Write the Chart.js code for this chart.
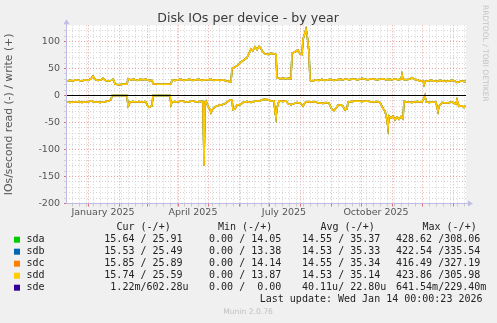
<!DOCTYPE html>
<html>
<head>
<meta charset="utf-8">
<script src="https://cdn.jsdelivr.net/npm/chart.js@4.4.1/dist/chart.umd.min.js"></script>
<style>
  html, body { margin: 0; padding: 0; background: #f0f0f0; overflow: hidden; }
  canvas { display: block; }
</style>
</head>
<body>
<canvas id="grafico" width="497" height="323"></canvas>
<script>
// x = days since 10 Dec 2024 (graph covers 400 days up to 14 Jan 2026)
const writeDays = [1, 4, 7, 10, 13, 16, 19, 22, 25, 27, 29, 32, 35, 37, 39, 42, 45, 47, 48, 49, 53, 57, 61, 62, 65, 68, 71, 74, 77, 80, 83, 86, 87, 91, 96, 101, 105, 106, 109, 112, 115, 118, 121, 124, 127, 130, 133, 136, 139, 142, 145, 148, 151, 154, 157, 160, 163, 165, 166, 169, 172, 175, 178, 181, 183, 185, 187, 189, 191, 193, 195, 197, 199, 202, 205, 208, 210, 211, 214, 217, 220, 223, 225, 226, 228, 230, 232, 234, 236, 237, 240, 241, 243, 244, 247, 250, 253, 256, 259, 262, 265, 268, 271, 274, 277, 280, 283, 286, 289, 292, 295, 296, 299, 302, 305, 308, 311, 314, 317, 320, 323, 326, 329, 332, 335, 336, 337, 340, 343, 346, 348, 351, 354, 357, 358, 359, 362, 365, 368, 371, 374, 377, 380, 383, 386, 389, 391, 393, 395, 398, 400]
const writeIOs = [27, 28, 27, 29, 28, 27, 29, 28, 31, 36, 30, 28, 29, 32, 28, 27, 28, 30, 27, 21, 20, 21, 21, 31, 29, 30, 28, 30, 29, 30, 28, 28, 22, 21, 21, 21, 21, 29, 28, 29, 30, 28, 29, 30, 28, 29, 30, 28, 29, 29, 30, 28, 29, 28, 29, 27, 26, 25, 50, 53, 56, 62, 66, 70, 78, 86, 83, 90, 85, 91, 87, 80, 77, 76, 78, 77, 76, 33, 31, 32, 31, 32, 31, 78, 80, 82, 84, 77, 76, 104, 123, 114, 80, 28, 27, 29, 28, 30, 28, 29, 30, 28, 29, 30, 29, 31, 29, 30, 30, 29, 31, 32, 30, 29, 31, 30, 29, 30, 31, 29, 30, 29, 31, 29, 30, 39, 30, 29, 30, 33, 30, 29, 27, 27, 20, 26, 27, 28, 27, 26, 28, 27, 26, 27, 28, 27, 24, 25, 27, 26, 26]

const readDays = [1, 4, 7, 10, 13, 16, 19, 22, 25, 28, 31, 34, 37, 40, 43, 45, 46, 61, 62, 63, 64, 67, 70, 73, 76, 79, 80, 81, 83, 86, 87, 104, 105, 106, 109, 112, 115, 118, 121, 124, 127, 130, 133, 136, 137, 138, 139, 140, 142, 144, 145, 147, 150, 153, 156, 159, 162, 164, 166, 167, 169, 171, 174, 177, 181, 185, 188, 191, 194, 196, 199, 202, 205, 208, 209, 210, 211, 213, 217, 220, 222, 225, 228, 231, 234, 237, 239, 242, 245, 248, 251, 254, 257, 260, 263, 266, 268, 269, 272, 275, 277, 279, 281, 282, 286, 291, 296, 301, 306, 311, 314, 317, 319, 321, 322, 323, 325, 327, 329, 331, 333, 335, 337, 338, 341, 346, 351, 356, 358, 359, 360, 363, 367, 370, 372, 373, 376, 381, 386, 390, 391, 393, 396, 398, 400]
const readIOs = [-12, -13, -12, -12, -11, -13, -12, -12, -10, -12, -12, -13, -12, -11, -10, -8, 0, 0, -20, -17, -12, -11, -12, -11, -12, -11, -12, -18, -22, -19, 0, 0, -17, -12, -11, -12, -10, -11, -12, -11, -10, -12, -11, -11, -11, -130, -12, -10, -20, -26, -32, -24, -20, -18, -17, -15, -11, -8, -9, -26, -25, -17, -17, -13, -11, -13, -11, -10, -10, -8, -7, -8, -10, -10, -30, -41, -23, -10, -11, -10, -15, -17, -15, -13, -14, -20, -13, -11, -12, -11, -13, -14, -15, -13, -14, -26, -28, -26, -18, -17, -20, -27, -25, -12, -11, -10, -11, -10, -12, -11, -13, -24, -29, -45, -60, -38, -42, -38, -45, -40, -44, -39, -43, -11, -12, -13, -11, -12, -5, 0, -12, -13, -12, -13, -29, -20, -13, -14, -12, -16, -8, -20, -19, -22, -18]

const sdeDays = [0, 400]
const sdeIOs = [0, 0]

const devices = ['sda', 'sdb', 'sdc', 'sdd', 'sde']
const deviceColors = ['#00cc00', '#0066b3', '#ff8000', '#ffcc00', '#330099']

const monthStartDays = [22, 53, 81, 112, 142, 173, 203, 234, 265, 295, 326, 356, 387]
const labelDays = [37, 127, 218, 310]
const xLabels = ['January 2025', 'April 2025', 'July 2025', 'October 2025']

const legendCur = [' 15.64 / 25.91', ' 15.53 / 25.49', ' 15.85 / 25.89', ' 15.74 / 25.59', '  1.22m/602.28u']
const legendMin = ['  0.00 / 14.05', '  0.00 / 13.38', '  0.00 / 14.14', '  0.00 / 13.87', '  0.00 /  0.00']
const legendAvg = [' 14.55 / 35.37', ' 14.53 / 35.33', ' 14.55 / 35.34', ' 14.53 / 35.14', ' 40.11u/ 22.80u']
const legendMax = ['428.62 /308.06', '422.54 /335.54', '416.49 /327.19', '423.86 /305.98', '641.54m/229.40m']

// weekly minor grid (mondays), monthly major grid, label slots mid-month
const xKind = new Map()
for (let d = 6; d < 400; d += 7) xKind.set(d, 'week')
monthStartDays.forEach(d => xKind.set(d, 'month'))
labelDays.forEach(d => xKind.set(d, 'label'))
const xTickValues = [...xKind.keys()].sort((a, b) => a - b)

const yTickValues = []
for (let v = -200; v <= 120; v += 10) yTickValues.push(v)

const redGrid = '#e8a2a2'
const grayGrid = '#d4d4d4'
const tickFont = { family: 'DejaVu Sans', size: 9.5 }

function points(xs, ys) {
  return xs.map((x, i) => ({ x: x, y: ys[i] }))
}

const datasets = []
devices.forEach((name, i) => {
  const isSde = name == 'sde'
  const order = 4 - i
  datasets.push({
    label: name + ' write',
    data: isSde ? points(sdeDays, sdeIOs) : points(writeDays, writeIOs),
    borderColor: deviceColors[i],
    borderWidth: isSde ? 1 : 1.5,
    pointRadius: 0,
    tension: 0,
    order: order
  })
  datasets.push({
    label: name + ' read',
    data: isSde ? points(sdeDays, sdeIOs) : points(readDays, readIOs),
    borderColor: deviceColors[i],
    borderWidth: isSde ? 1 : 1.5,
    pointRadius: 0,
    tension: 0,
    order: order
  })
})

const muninDecor = {
  id: 'muninDecor',
  beforeDraw(chart) {
    const ctx = chart.ctx
    const a = chart.chartArea
    ctx.save()
    ctx.fillStyle = '#f0f0f0'
    ctx.fillRect(0, 0, chart.width, chart.height)
    ctx.fillStyle = '#ffffff'
    ctx.fillRect(a.left, a.top, a.right - a.left, a.bottom - a.top)
    ctx.restore()
  },
  afterDatasetsDraw(chart) {
    const ctx = chart.ctx
    const a = chart.chartArea
    const y0 = Math.floor(chart.scales.y.getPixelForValue(0)) + 0.5
    ctx.save()
    ctx.strokeStyle = '#000000'
    ctx.lineWidth = 1.2
    ctx.beginPath()
    ctx.moveTo(a.left, y0)
    ctx.lineTo(a.right, y0)
    ctx.stroke()
    ctx.restore()
  },
  afterDraw(chart) {
    const ctx = chart.ctx
    const a = chart.chartArea
    ctx.save()
    // axes with arrows
    const ax = Math.floor(a.left) + 0.5
    const ay = Math.floor(a.bottom) + 0.5
    ctx.strokeStyle = '#bcbce6'
    ctx.fillStyle = '#bcbce6'
    ctx.lineWidth = 1
    ctx.beginPath()
    ctx.moveTo(ax, ay)
    ctx.lineTo(a.right + 3, ay)
    ctx.moveTo(ax, ay)
    ctx.lineTo(ax, a.top - 2)
    ctx.stroke()
    ctx.beginPath()
    ctx.moveTo(a.right + 2, ay - 3)
    ctx.lineTo(a.right + 7, ay)
    ctx.lineTo(a.right + 2, ay + 3)
    ctx.closePath()
    ctx.fill()
    ctx.beginPath()
    ctx.moveTo(ax - 3, a.top - 1)
    ctx.lineTo(ax, a.top - 6)
    ctx.lineTo(ax + 3, a.top - 1)
    ctx.closePath()
    ctx.fill()

    // title
    ctx.fillStyle = '#3a3a3a'
    ctx.font = '12.6px "DejaVu Sans"'
    ctx.textAlign = 'center'
    ctx.textBaseline = 'middle'
    ctx.fillText('Disk IOs per device - by year', 248, 19)

    // watermark
    ctx.save()
    ctx.translate(485, 5)
    ctx.rotate(Math.PI / 2)
    ctx.fillStyle = '#c4c4c4'
    ctx.font = '7.5px "DejaVu Sans"'
    ctx.textAlign = 'left'
    ctx.fillText('RRDTOOL / TOBI OETIKER', 0, 0)
    ctx.restore()

    // legend table
    ctx.font = '10px "DejaVu Sans Mono"'
    ctx.fillStyle = '#222222'
    ctx.textAlign = 'left'
    ctx.textBaseline = 'middle'
    const headY = 227.5
    ctx.fillText('Cur (-/+)', 116.5, headY)
    ctx.fillText('Min (-/+)', 218, headY)
    ctx.fillText('Avg (-/+)', 320.5, headY)
    ctx.fillText('Max (-/+)', 422.5, headY)
    devices.forEach((name, i) => {
      const y = 239.7 + i * 12
      ctx.fillStyle = deviceColors[i]
      ctx.fillRect(14, y - 3, 6, 6)
      ctx.fillStyle = '#222222'
      ctx.fillText(name, 26.5, y)
      ctx.fillText(legendCur[i], 98.3, y)
      ctx.fillText(legendMin[i], 197, y)
      ctx.fillText(legendAvg[i], 296, y)
      ctx.fillText(legendMax[i], 396, y)
    })
    ctx.textAlign = 'right'
    ctx.fillText('Last update: Wed Jan 14 00:00:23 2026', 482.5, 299.5)

    ctx.textAlign = 'center'
    ctx.fillStyle = '#c0c0c0'
    ctx.font = '7.6px "DejaVu Sans"'
    ctx.fillText('Munin 2.0.76', 248, 312.5)
    ctx.restore()
  }
}

const canvas = document.getElementById('grafico')
const chart = new Chart(canvas.getContext('2d'), {
  type: 'line',
  data: { datasets: datasets },
  plugins: [muninDecor],
  options: {
    responsive: false,
    devicePixelRatio: 1,
    animation: false,
    layout: { padding: { top: 25.3, right: 31, bottom: 99.5, left: 0 } },
    plugins: { legend: { display: false }, tooltip: { enabled: false }, title: { display: false } },
    scales: {
      x: {
        type: 'linear',
        min: 0,
        max: 400,
        afterBuildTicks: s => { s.ticks = xTickValues.map(v => ({ value: v })) },
        afterFit: s => { s.height = 20 },
        grid: {
          drawTicks: true,
          tickLength: 3,
          lineWidth: c => (c.tick && xKind.get(c.tick.value) == 'label') ? 0 : 1,
          color: c => {
            const k = c.tick ? xKind.get(c.tick.value) : ''
            return k == 'month' ? redGrid : (k == 'week' ? grayGrid : 'rgba(0,0,0,0)')
          },
          tickColor: c => {
            const k = c.tick ? xKind.get(c.tick.value) : ''
            return k == 'month' ? '#e07070' : (k == 'week' ? '#c8c8c8' : 'rgba(0,0,0,0)')
          }
        },
        border: { display: false, dash: [1, 2] },
        ticks: {
          autoSkip: false,
          maxRotation: 0,
          minRotation: 0,
          padding: 0,
          color: '#555555',
          font: tickFont,
          callback: v => {
            const i = labelDays.indexOf(v)
            return i >= 0 ? xLabels[i] : ''
          }
        }
      },
      y: {
        type: 'linear',
        min: -200,
        max: 130,
        afterBuildTicks: s => { s.ticks = yTickValues.map(v => ({ value: v })) },
        afterFit: s => { s.width = 66 },
        grid: {
          drawTicks: true,
          tickLength: 2,
          lineWidth: 1,
          color: c => (c.tick && c.tick.value % 50 == 0) ? redGrid : grayGrid,
          tickColor: c => (c.tick && c.tick.value % 50 == 0) ? '#e07070' : '#d0d0d0'
        },
        border: { display: false, dash: [1, 2] },
        ticks: {
          autoSkip: false,
          padding: 4,
          color: '#555555',
          font: tickFont,
          callback: v => (v % 50 == 0 ? String(v) : '')
        },
        title: {
          display: true,
          text: 'IOs/second read (-) / write (+)',
          color: '#555555',
          font: { family: 'DejaVu Sans', size: 10.8 },
          padding: { top: 3, bottom: 0 }
        }
      }
    }
  }
})
</script>
</body>
</html>
